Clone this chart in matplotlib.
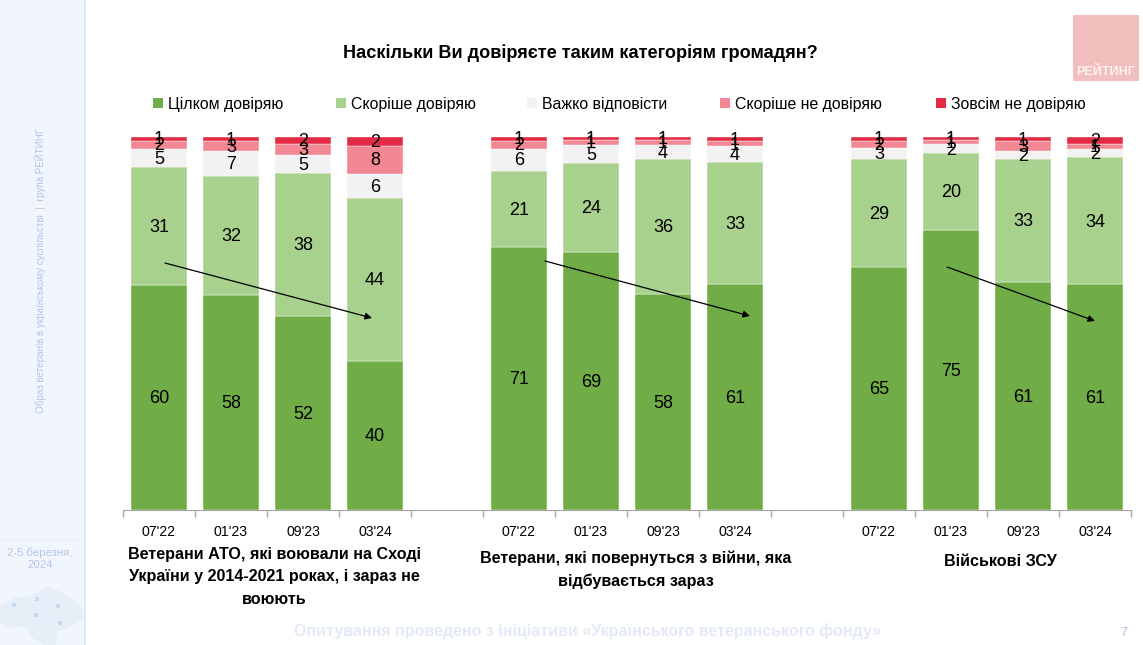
import numpy as np
import matplotlib
matplotlib.use("Agg")
import matplotlib.pyplot as plt
from matplotlib.patches import Rectangle, Polygon

plt.rcParams['font.family'] = ['Liberation Sans', 'DejaVu Sans']

W, H = 1143, 645

waves = ["07'22", "01'23", "09'23", "03'24"]
series_names = ["Цілком довіряю", "Скоріше довіряю", "Важко відповісти",
                "Скоріше не довіряю", "Зовсім не довіряю"]
colors = ["#70AD47", "#A9D18E", "#F2F2F2", "#F18894", "#E22A45"]

# labels are these values rounded
full_trust = [60.3, 57.6, 52.0, 39.9, 70.6, 69.2, 57.9, 60.6, 64.9, 74.8, 61.0, 60.6]
rather_trust = [31.4, 32.0, 38.3, 43.6, 20.6, 23.7, 36.0, 32.6, 29.0, 20.4, 33.2, 34.1]
hard_to_say = [5.0, 6.8, 4.8, 6.4, 6.0, 5.0, 3.9, 4.3, 2.9, 2.4, 2.0, 2.3]
rather_not = [2.1, 2.6, 2.8, 7.6, 2.1, 1.2, 1.2, 1.3, 2.0, 1.3, 2.6, 1.4]
no_trust = [1.0, 1.1, 2.0, 2.3, 1.0, 0.9, 0.9, 1.2, 1.0, 0.7, 1.2, 1.8]

slots = [0, 1, 2, 3, 5, 6, 7, 8, 10, 11, 12, 13]
group_titles = ["Ветерани АТО, які воювали на Сході\nУкраїни у 2014-2021 роках, і зараз не\nвоюють",
                "Ветерани, які повернуться з війни, яка\nвідбувається зараз",
                "Військові ЗСУ"]


def fx(x):
    return x / W


def fy(y):
    return 1 - y / H


fig = plt.figure(figsize=(W / 100, H / 100), dpi=100)

# side panel
fig.add_artist(Rectangle((0, 0), fx(84), 1, transform=fig.transFigure, fc="#F1F5FD", ec="none"))
fig.add_artist(Rectangle((fx(84), 0), fx(1.5), 1, transform=fig.transFigure, fc="#DEE8F6", ec="none"))
fig.add_artist(Rectangle((0, fy(541)), fx(84), 1.5 / H, transform=fig.transFigure, fc="#E4ECF8", ec="none"))
fig.text(fx(40), fy(270), "Образ ветеранів в українському суспільстві  |  група РЕЙТИНГ", rotation=90,
         ha="center", va="center", fontsize=7.1, color="#B4C7E7")
fig.text(fx(40), fy(559), "2-5 березня,\n2024", ha="center", va="center", fontsize=8.2,
         color="#B4C7E7", linespacing=1.2)
# faint map
map_x = [0, 14, 30, 48, 62, 80, 84, 72, 58, 56, 44, 30, 26, 8, 0]
map_y = [605, 598, 596, 587, 592, 604, 618, 626, 632, 645, 645, 636, 626, 628, 622]
fig.add_artist(Polygon(np.column_stack([np.array(map_x) / W, 1 - np.array(map_y) / H]),
                       transform=fig.transFigure, fc="#E6EEF8", ec="none"))
for mx, my in [(12, 607), (35, 601), (56, 608), (34, 617), (58, 625)]:
    fig.add_artist(Rectangle((fx(mx), fy(my)), 4 / W, 4 / H, transform=fig.transFigure, fc="#C5DAEE", ec="none"))

fig.text(fx(580), fy(53), "Наскільки Ви довіряєте таким категоріям громадян?", ha="center", va="center",
         fontsize=13.1, fontweight="bold", color="black")

# logo
fig.add_artist(Rectangle((fx(1073), fy(81)), 66 / W, 66 / H, transform=fig.transFigure, fc="#F2BEBE", ec="none"))
fig.text(fx(1106), fy(72), "РЕЙТИНГ", ha="center", va="center", fontsize=9, fontweight="bold",
         color="#FDF3F3")

# legend drawn by hand to keep the uneven spacing
legend_x = [153, 336, 527, 720, 936]
for lx, name, c in zip(legend_x, series_names, colors):
    fig.add_artist(Rectangle((fx(lx), fy(108)), 10 / W, 10 / H, transform=fig.transFigure, fc=c, ec="none"))
    fig.text(fx(lx + 15), fy(104), name, ha="left", va="center", fontsize=11.4, color="black")

ax = fig.add_axes([fx(123), fy(510), 1008 / W, (510 - 137) / H])

rows = np.array([full_trust, rather_trust, hard_to_say, rather_not, no_trust])
shares = rows / rows.sum(axis=0) * 100
bottom = np.zeros(len(slots))
for row, share, c in zip(rows, shares, colors):
    ax.bar(slots, share, bottom=bottom, width=0.78, color=c, edgecolor="white", linewidth=0.3)
    for x, b, s, v in zip(slots, bottom, share, row):
        ax.text(x, b + s / 2 - 0.3, f"{v:.0f}", ha="center", va="center", fontsize=13, color="black")
    bottom += share

ax.set_xlim(-0.5, 13.5)
ax.set_ylim(0, 100)
ax.set_yticks([])
for side in ["top", "left", "right"]:
    ax.spines[side].set_visible(False)
ax.spines["bottom"].set_color("#A6A6A6")
ax.set_xticks(np.arange(-0.5, 14, 1))
ax.set_xticklabels([])
ax.tick_params(axis="x", length=5, color="#A6A6A6", width=1)
ax.set_xticks(slots, minor=True)
ax.set_xticklabels(waves * 3, minor=True, fontsize=10.2)
ax.tick_params(axis="x", which="minor", length=0, pad=11)

# trend arrows
arrows = [((165, 263), (372, 318)), ((545, 261), (750, 316)), ((947, 267), (1095, 321))]
for (x0, y0), (x1, y1) in arrows:
    ax.annotate("", xy=(fx(x1), fy(y1)), xytext=(fx(x0), fy(y0)), xycoords="figure fraction",
                textcoords="figure fraction",
                arrowprops=dict(arrowstyle="-|>", color="black", lw=0.9, shrinkA=0, shrinkB=0, mutation_scale=10))

# group captions
for gx, gy, title in zip([274, 636, 1000], [577, 570, 561], group_titles):
    fig.text(fx(gx), fy(gy), title, ha="center", va="center", fontsize=11.6, fontweight="bold",
             linespacing=1.6, color="black")

fig.text(fx(588), fy(631), "Опитування проведено з ініціативи «Українського ветеранського фонду»",
         ha="center", va="center", fontsize=11.5, fontweight="bold", color="#E3EAF6")
fig.text(fx(1124), fy(633), "7", ha="center", va="center", fontsize=9, color="#A9BEDD")

fig.savefig("out.png", dpi=100)
